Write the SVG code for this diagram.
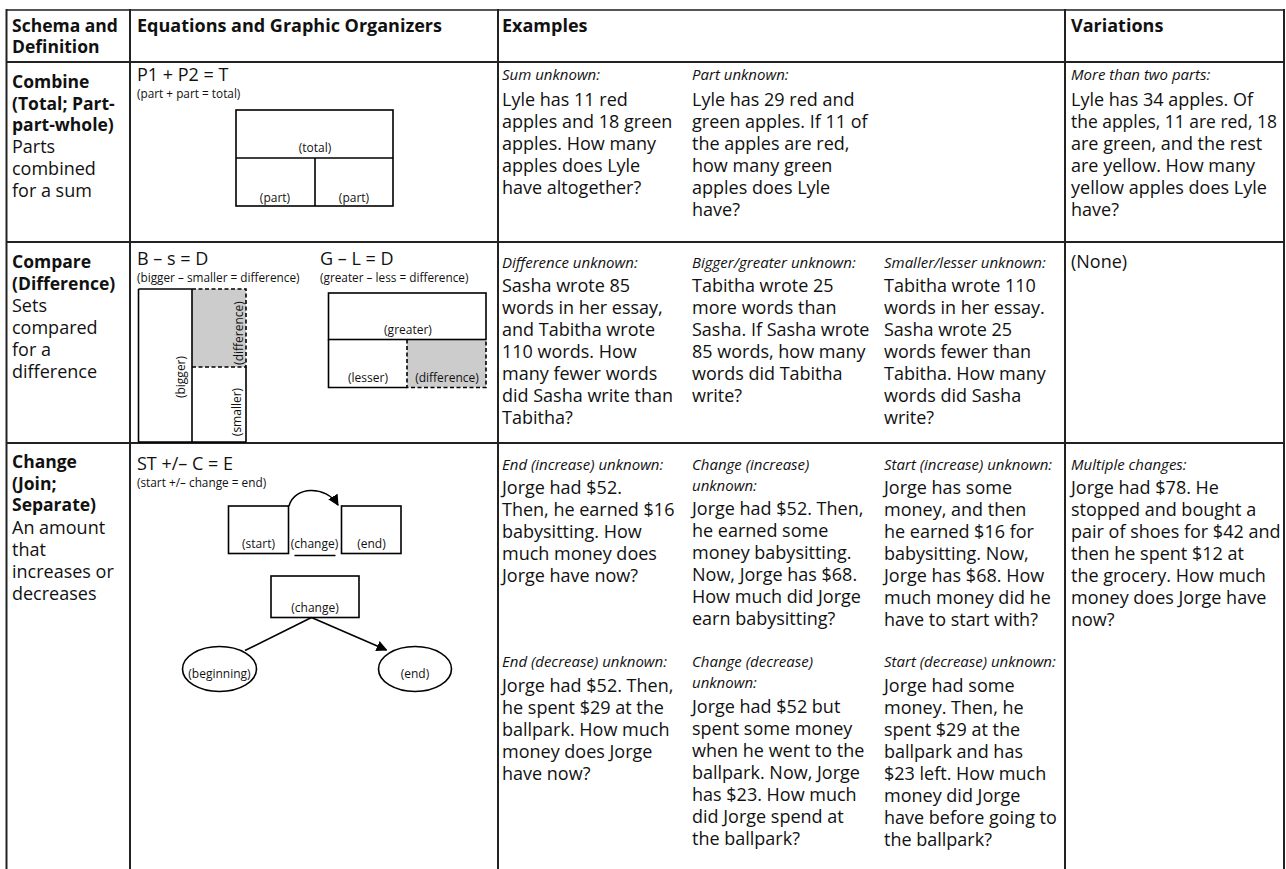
<svg xmlns="http://www.w3.org/2000/svg" width="1286" height="869" viewBox="0 0 1286 869">
<defs>
<style>
text{font-family:"Open Sans","Noto Sans","Liberation Sans",sans-serif;fill:#111}
.h{font-size:18px;font-weight:bold}
.hb{font-size:17.5px;font-weight:bold}
.b{font-size:18px}
.i{font-size:15px;font-style:italic}
.eq{font-size:18px}
.s{font-size:11.8px}
.lb{font-size:12px}
.grid{stroke:#222;stroke-width:2;fill:none}
.org{stroke:#000;stroke-width:1.6;fill:none}
.dash{stroke:#000;stroke-width:1.6;fill:none;stroke-dasharray:4 2.5}
.gray{fill:#cccccc;stroke:none}
.c{text-anchor:middle}
</style>
<marker id="ah" viewBox="0 0 10 10" refX="9" refY="5" markerWidth="11" markerHeight="11" markerUnits="userSpaceOnUse" orient="auto">
<path d="M0,0 L10,5 L0,10 z" fill="#000"/>
</marker>
</defs>
<rect width="1286" height="869" fill="#fff"/>

<g id="table-grid" class="grid">
<line x1="6.5" y1="10" x2="1284" y2="10" stroke="#555"/>
<line x1="6.5" y1="62" x2="1284" y2="62"/>
<line x1="6.5" y1="242" x2="1284" y2="242"/>
<line x1="6.5" y1="443" x2="1284" y2="443"/>
<line x1="6.5" y1="9" x2="6.5" y2="869"/>
<line x1="130" y1="9" x2="130" y2="869"/>
<line x1="498" y1="9" x2="498" y2="869"/>
<line x1="1065" y1="9" x2="1065" y2="869"/>
<line x1="1284" y1="9" x2="1284" y2="869"/>
</g>

<g id="header">
<text class="hb" x="12" y="31.5">Schema and</text>
<text class="hb" x="12" y="53">Definition</text>
<text class="h" x="137" y="32">Equations and Graphic Organizers</text>
<text class="h" x="502" y="32">Examples</text>
<text class="h" x="1071" y="32">Variations</text>
</g>

<g id="combine-schema">
<text class="hb" x="12" y="88">Combine</text>
<text class="hb" x="12" y="109.5">(Total; Part-</text>
<text class="hb" x="12" y="131">part-whole)</text>
<text class="b" x="12" y="153">Parts</text>
<text class="b" x="12" y="175">combined</text>
<text class="b" x="12" y="197">for a sum</text>
</g>

<g id="combine-organizer">
<text class="eq" x="137" y="81">P1 + P2 = T</text>
<text class="s" x="137" y="98">(part + part = total)</text>
<rect class="org" x="236" y="110" width="157" height="96"/>
<line class="org" x1="236" y1="158" x2="393" y2="158"/>
<line class="org" x1="315" y1="158" x2="315" y2="206"/>
<text class="lb c" x="315" y="152">(total)</text>
<text class="lb c" x="275" y="202">(part)</text>
<text class="lb c" x="354" y="202">(part)</text>
</g>

<g id="combine-examples">
<text class="i" x="502" y="80">Sum unknown:</text>
<text class="b" x="502" y="106">Lyle has 11 red</text>
<text class="b" x="502" y="128">apples and 18 green</text>
<text class="b" x="502" y="150">apples. How many</text>
<text class="b" x="502" y="172">apples does Lyle</text>
<text class="b" x="502" y="194">have altogether?</text>
<text class="i" x="692" y="80">Part unknown:</text>
<text class="b" x="692" y="106">Lyle has 29 red and</text>
<text class="b" x="692" y="128">green apples. If 11 of</text>
<text class="b" x="692" y="150">the apples are red,</text>
<text class="b" x="692" y="172">how many green</text>
<text class="b" x="692" y="194">apples does Lyle</text>
<text class="b" x="692" y="216">have?</text>
</g>

<g id="combine-variations">
<text class="i" x="1071" y="80">More than two parts:</text>
<text class="b" x="1071" y="106">Lyle has 34 apples. Of</text>
<text class="b" x="1071" y="128" textLength="206" lengthAdjust="spacingAndGlyphs">the apples, 11 are red, 18</text>
<text class="b" x="1071" y="150">are green, and the rest</text>
<text class="b" x="1071" y="172">are yellow. How many</text>
<text class="b" x="1071" y="194">yellow apples does Lyle</text>
<text class="b" x="1071" y="216">have?</text>
</g>

<g id="compare-schema">
<text class="hb" x="12" y="268">Compare</text>
<text class="hb" x="12" y="289.5">(Difference)</text>
<text class="b" x="12" y="312">Sets</text>
<text class="b" x="12" y="334">compared</text>
<text class="b" x="12" y="356">for a</text>
<text class="b" x="12" y="378">difference</text>
</g>

<g id="compare-organizer-bigger">
<text class="eq" x="137" y="265">B – s = D</text>
<text class="s" x="137" y="282">(bigger – smaller = difference)</text>
<rect class="gray" x="192" y="289" width="54" height="78"/>
<line class="org" x1="138.5" y1="289" x2="192" y2="289"/>
<line class="org" x1="138.5" y1="289" x2="138.5" y2="442"/>
<line class="org" x1="138.5" y1="442" x2="246" y2="442"/>
<line class="org" x1="192" y1="289" x2="192" y2="442"/>
<line class="org" x1="246" y1="367" x2="246" y2="442"/>
<path class="dash" d="M192,289 H246 V367 H192"/>
<text class="lb c" transform="translate(185,377) rotate(-90)">(bigger)</text>
<text class="lb c" transform="translate(243,333) rotate(-90)">(difference)</text>
<text class="lb c" transform="translate(241,412) rotate(-90)">(smaller)</text>
</g>

<g id="compare-organizer-greater">
<text class="eq" x="320" y="265">G – L = D</text>
<text class="s" x="320" y="282">(greater – less = difference)</text>
<rect class="gray" x="407" y="339.5" width="79" height="48"/>
<rect class="org" x="328.5" y="293" width="157.5" height="46.5"/>
<path class="org" d="M328.5,339.5 V387.5 H407"/>
<path class="dash" d="M407,339.5 V387.5 H486 V339.5"/>
<text class="lb c" x="408" y="334">(greater)</text>
<text class="lb c" x="368" y="382">(lesser)</text>
<text class="lb c" x="447" y="382">(difference)</text>
</g>

<g id="compare-examples">
<text class="i" x="502" y="268">Difference unknown:</text>
<text class="b" x="502" y="292">Sasha wrote 85</text>
<text class="b" x="502" y="314">words in her essay,</text>
<text class="b" x="502" y="336">and Tabitha wrote</text>
<text class="b" x="502" y="358">110 words. How</text>
<text class="b" x="502" y="380">many fewer words</text>
<text class="b" x="502" y="402">did Sasha write than</text>
<text class="b" x="502" y="424">Tabitha?</text>
<text class="i" x="692" y="268">Bigger/greater unknown:</text>
<text class="b" x="692" y="292">Tabitha wrote 25</text>
<text class="b" x="692" y="314">more words than</text>
<text class="b" x="692" y="336">Sasha. If Sasha wrote</text>
<text class="b" x="692" y="358">85 words, how many</text>
<text class="b" x="692" y="380">words did Tabitha</text>
<text class="b" x="692" y="402">write?</text>
<text class="i" x="884" y="268">Smaller/lesser unknown:</text>
<text class="b" x="884" y="292">Tabitha wrote 110</text>
<text class="b" x="884" y="314">words in her essay.</text>
<text class="b" x="884" y="336">Sasha wrote 25</text>
<text class="b" x="884" y="358">words fewer than</text>
<text class="b" x="884" y="380">Tabitha. How many</text>
<text class="b" x="884" y="402">words did Sasha</text>
<text class="b" x="884" y="424">write?</text>
</g>

<g id="compare-variations">
<text class="b" x="1071" y="268">(None)</text>
</g>

<g id="change-schema">
<text class="hb" x="12" y="468">Change</text>
<text class="hb" x="12" y="489.5">(Join;</text>
<text class="hb" x="12" y="511">Separate)</text>
<text class="b" x="12" y="534">An amount</text>
<text class="b" x="12" y="556">that</text>
<text class="b" x="12" y="578">increases or</text>
<text class="b" x="12" y="600">decreases</text>
</g>

<g id="change-organizer">
<text class="eq" x="137" y="470">ST +/– C = E</text>
<text class="s" x="137" y="487">(start +/– change = end)</text>
<g id="start-box">
<rect class="org" x="228.5" y="506" width="60" height="47.5"/>
<text class="lb c" x="258.5" y="548">(start)</text>
</g>
<g id="change-label">
<text class="lb c" x="314.5" y="548">(change)</text>
<line class="org" x1="294.5" y1="555.5" x2="335.5" y2="555.5"/>
</g>
<g id="end-box">
<rect class="org" x="341.5" y="506" width="59.5" height="47.5"/>
<text class="lb c" x="371.5" y="548">(end)</text>
</g>
<g id="change-box">
<rect class="org" x="271" y="576" width="88" height="41.5"/>
<text class="lb c" x="315" y="611.5">(change)</text>
</g>
<g id="beginning-ellipse">
<ellipse class="org" cx="219.5" cy="669" rx="37" ry="22.5"/>
<text class="lb c" x="219.5" y="678">(beginning)</text>
</g>
<g id="end-ellipse">
<ellipse class="org" cx="415" cy="669" rx="36.5" ry="22.5"/>
<text class="lb c" x="415" y="678">(end)</text>
</g>
</g>

<g id="connectors" class="org">
<path d="M289,506 C294,486 326,485 338,505" marker-end="url(#ah)"/>
<line x1="311.5" y1="617.5" x2="245" y2="650.5"/>
<line x1="311.5" y1="617.5" x2="386.5" y2="650" marker-end="url(#ah)"/>
</g>

<g id="change-examples">
<text class="i" x="502" y="470">End (increase) unknown:</text>
<text class="b" x="502" y="494">Jorge had $52.</text>
<text class="b" x="502" y="516">Then, he earned $16</text>
<text class="b" x="502" y="538">babysitting. How</text>
<text class="b" x="502" y="560">much money does</text>
<text class="b" x="502" y="582">Jorge have now?</text>
<text class="i" x="692" y="470">Change (increase)</text>
<text class="i" x="692" y="491">unknown:</text>
<text class="b" x="692" y="515">Jorge had $52. Then,</text>
<text class="b" x="692" y="537">he earned some</text>
<text class="b" x="692" y="559">money babysitting.</text>
<text class="b" x="692" y="581">Now, Jorge has $68.</text>
<text class="b" x="692" y="603">How much did Jorge</text>
<text class="b" x="692" y="625">earn babysitting?</text>
<text class="i" x="884" y="470">Start (increase) unknown:</text>
<text class="b" x="884" y="494">Jorge has some</text>
<text class="b" x="884" y="516">money, and then</text>
<text class="b" x="884" y="538">he earned $16 for</text>
<text class="b" x="884" y="560">babysitting. Now,</text>
<text class="b" x="884" y="582">Jorge has $68. How</text>
<text class="b" x="884" y="604">much money did he</text>
<text class="b" x="884" y="626">have to start with?</text>
<text class="i" x="502" y="667">End (decrease) unknown:</text>
<text class="b" x="502" y="692">Jorge had $52. Then,</text>
<text class="b" x="502" y="714">he spent $29 at the</text>
<text class="b" x="502" y="736">ballpark. How much</text>
<text class="b" x="502" y="758">money does Jorge</text>
<text class="b" x="502" y="780">have now?</text>
<text class="i" x="692" y="667">Change (decrease)</text>
<text class="i" x="692" y="688">unknown:</text>
<text class="b" x="692" y="713">Jorge had $52 but</text>
<text class="b" x="692" y="735">spent some money</text>
<text class="b" x="692" y="757">when he went to the</text>
<text class="b" x="692" y="779">ballpark. Now, Jorge</text>
<text class="b" x="692" y="801">has $23. How much</text>
<text class="b" x="692" y="823">did Jorge spend at</text>
<text class="b" x="692" y="845">the ballpark?</text>
<text class="i" x="884" y="667">Start (decrease) unknown:</text>
<text class="b" x="884" y="692">Jorge had some</text>
<text class="b" x="884" y="714">money. Then, he</text>
<text class="b" x="884" y="736">spent $29 at the</text>
<text class="b" x="884" y="758">ballpark and has</text>
<text class="b" x="884" y="780">$23 left. How much</text>
<text class="b" x="884" y="802">money did Jorge</text>
<text class="b" x="884" y="824">have before going to</text>
<text class="b" x="884" y="846">the ballpark?</text>
</g>

<g id="change-variations">
<text class="i" x="1071" y="470">Multiple changes:</text>
<text class="b" x="1071" y="494">Jorge had $78. He</text>
<text class="b" x="1071" y="516">stopped and bought a</text>
<text class="b" x="1071" y="538">pair of shoes for $42 and</text>
<text class="b" x="1071" y="560">then he spent $12 at</text>
<text class="b" x="1071" y="582">the grocery. How much</text>
<text class="b" x="1071" y="604">money does Jorge have</text>
<text class="b" x="1071" y="626">now?</text>
</g>
</svg>
